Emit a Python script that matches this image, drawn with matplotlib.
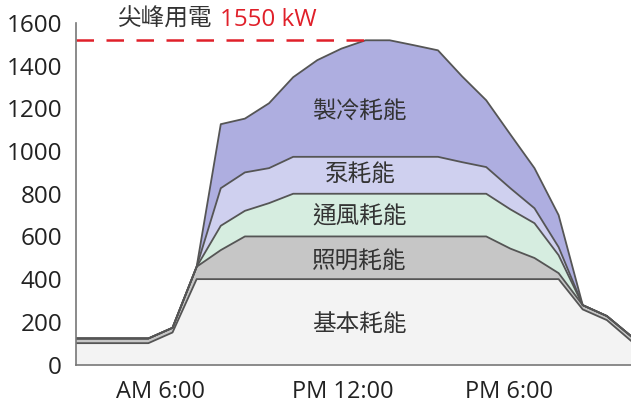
import numpy as np
import matplotlib
matplotlib.use("Agg")
import matplotlib.pyplot as plt

plt.rcParams['font.family'] = ['Open Sans', 'Noto Sans CJK TC', 'DejaVu Sans']

# hourly points (0..23), kW per layer
hours = np.arange(24)
base     = [100, 100, 100, 100, 150] + [400] * 16 + [258, 208, 111]
lighting = [22, 22, 22, 22, 22, 58, 136] + [200] * 11 + [143, 99, 28, 20, 19, 22]
vent     = [0] * 6 + [114, 120, 156] + [200] * 9 + [184, 163, 84, 0, 0, 0]
pump     = [0] * 6 + [176, 180, 164] + [173] * 7 + [148, 125, 99, 70, 38, 0, 0, 0]
chill    = [0] * 6 + [300, 252, 304, 373, 453, 507, 546, 546, 523, 499,
                      402, 313, 252, 188, 150, 0, 0, 0]

layer_names = ["基本耗能", "照明耗能", "通風耗能", "泵耗能", "製冷耗能"]
layer_colours = ["#f3f3f3", "#c6c6c6", "#d6ede0", "#cfd0ef", "#aeaee0"]

tick_pos = [3.5, 11.05, 17.95]
tick_labels = ["AM 6:00", "PM 12:00", "PM 6:00"]
peak_label = "1550 kW"

layers = np.array([base, lighting, vent, pump, chill], dtype=float)
tops = layers.cumsum(axis=0)
total = tops[-1]

fig = plt.figure(figsize=(6.31, 4.05), dpi=100)
ax = fig.add_axes([76 / 631, 40.5 / 405, 555 / 631, 341.5 / 405])

ax.stackplot(hours, layers, colors=layer_colours, linewidth=0)
for top in tops:
    ax.plot(hours, top, color="#555555", lw=1.3)

# peak line
i_peak = int(np.argmax(total))
ax.plot([0, hours[i_peak]], [total[i_peak], total[i_peak]],
        color="#e0202a", lw=1.8, dashes=(7, 5))

# labels inside the areas
label_y = [185, 480, 690, 887, 1182]
for name, ly in zip(layer_names, label_y):
    ax.text(11.75, ly, name, ha="center", va="center", fontsize=17, color="#333333")

fig.text(118 / 631, 1 - 20 / 405, "尖峰用電", ha="left", va="center",
         fontsize=17, color="#333333")
fig.text(220 / 631, 1 - 20 / 405, peak_label, ha="left", va="center",
         fontsize=17.5, color="#e0202a")

ax.set_xlim(0, 23)
ax.set_ylim(0, 1600)
ax.set_yticks(range(0, 1601, 200))
ax.set_xticks(tick_pos)
ax.set_xticklabels(tick_labels)
ax.tick_params(axis="both", length=0, labelcolor="#222222")
ax.tick_params(axis="y", pad=10, labelsize=17.5)
ax.tick_params(axis="x", pad=11, labelsize=17)

for s in ["top", "right"]:
    ax.spines[s].set_visible(False)
ax.spines["left"].set_color("#777777")
ax.spines["bottom"].set_color("#777777")
ax.spines["left"].set_linewidth(1.2)
ax.spines["bottom"].set_linewidth(1.2)

fig.savefig("out.png", dpi=100)
